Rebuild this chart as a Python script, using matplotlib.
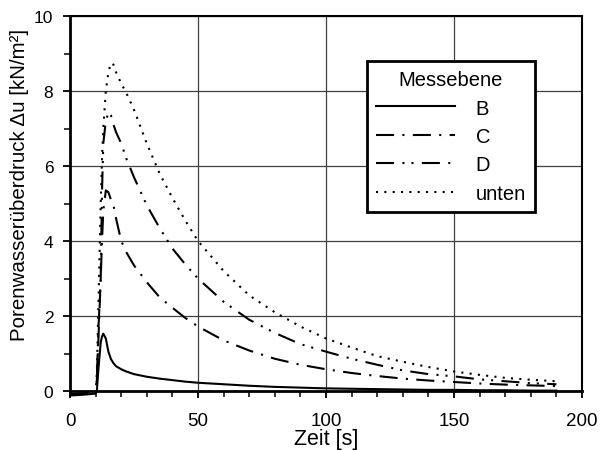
import numpy as np
import matplotlib
matplotlib.use("Agg")
import matplotlib.pyplot as plt

plt.rcParams['font.family'] = ['Liberation Sans', 'DejaVu Sans']
plt.rcParams['lines.scale_dashes'] = False

# Zeit [s]
zeit = [0, 5, 10, 10.5, 11, 12, 12.5, 13, 14, 15, 16, 17, 18, 20, 22, 25, 30, 35, 40, 45,
        50, 60, 70, 80, 90, 100, 110, 120, 130, 140, 150, 160, 170, 180, 190]

# Porenwasserueberdruck je Messebene [kN/m2]
du_B = [-0.12, -0.10, -0.07, 0.0, 0.5, 1.3, 1.45, 1.53, 1.40, 1.05, 0.85, 0.74, 0.66, 0.58,
        0.52, 0.45, 0.38, 0.33, 0.29, 0.25, 0.22, 0.18, 0.14, 0.11, 0.09, 0.07, 0.06, 0.05,
        0.04, 0.03, 0.03, 0.02, 0.02, 0.01, 0.01]
du_C = [-0.08, -0.07, -0.05, 0.3, 1.2, 3.0, 4.0, 4.8, 5.35, 5.30, 5.10, 4.95, 4.60, 4.00,
        3.70, 3.35, 2.90, 2.50, 2.22, 1.95, 1.72, 1.35, 1.08, 0.86, 0.70, 0.58, 0.48, 0.40,
        0.33, 0.28, 0.24, 0.20, 0.17, 0.15, 0.13]
du_D = [-0.08, -0.07, -0.05, 0.3, 1.5, 3.0, 5.3, 6.6, 7.20, 7.43, 7.35, 7.10, 6.90, 6.60,
        6.20, 5.70, 4.95, 4.35, 3.80, 3.38, 3.00, 2.38, 1.90, 1.55, 1.25, 1.05, 0.86, 0.70,
        0.55, 0.45, 0.39, 0.31, 0.26, 0.21, 0.18]
du_unten = [-0.08, -0.07, -0.05, 0.5, 2.0, 5.0, 6.2, 7.0, 8.0, 8.50, 8.75, 8.70, 8.50, 8.20,
            7.95, 7.50, 6.60, 5.80, 5.15, 4.55, 4.00, 3.20, 2.55, 2.10, 1.72, 1.40, 1.16, 0.93,
            0.78, 0.64, 0.52, 0.43, 0.35, 0.30, 0.26]

fs = 13.5

fig = plt.figure(figsize=(6, 4.52), dpi=100)
ax = fig.add_axes([70 / 600, 60 / 452, 512 / 600, 375 / 452])

lw = 1.5
ax.plot(zeit, du_B, color='black', lw=lw, linestyle='-', label='B', clip_on=False)
ax.plot(zeit, du_C, color='black', lw=lw, linestyle=(0, (13, 6, 1.5, 6)), label='C', clip_on=False)
ax.plot(zeit, du_D, color='black', lw=lw, linestyle=(0, (13, 6, 1.5, 5, 1.5, 6)), label='D',
        clip_on=False)
ax.plot(zeit, du_unten, color='black', lw=lw, linestyle=(0, (1.5, 4.5)), label='unten',
        clip_on=False)

ax.set_xlim(0, 200)
ax.set_ylim(0, 10)
ax.set_xticks([0, 50, 100, 150, 200])
ax.set_yticks([0, 2, 4, 6, 8, 10])
ax.set_xticks(np.arange(0, 201, 10), minor=True)
ax.set_yticks(np.arange(0, 11, 1), minor=True)
ax.grid(True, which='major', color='0.25', lw=0.9)
ax.tick_params(which='major', direction='out', length=5, width=1.3)
ax.tick_params(which='minor', direction='out', length=4, width=1.1)
ax.tick_params(axis='x', labelsize=fs, pad=10)
ax.tick_params(axis='y', labelsize=fs - 1, pad=7)
for side in ['left', 'bottom']:
    ax.spines[side].set_linewidth(2)
for side in ['top', 'right']:
    ax.spines[side].set_linewidth(1.5)

ax.set_xlabel('Zeit [s]', fontsize=15.5)
ax.set_ylabel('Porenwasserüberdruck Δu [kN/m²]', fontsize=14.8)
ax.xaxis.set_label_coords(0.5, -0.1)
ax.yaxis.set_label_coords(-0.08, 0.552)

leg = ax.legend(title='Messebene', loc='upper right', bbox_to_anchor=(0.908, 0.88),
                borderaxespad=0, fontsize=14.5, title_fontsize=14.5, handlelength=3.95,
                handletextpad=1.0, labelspacing=0.47, fancybox=False, framealpha=1,
                edgecolor='black', borderpad=0.45)
leg.get_frame().set_linewidth(2)

fig.savefig('out.png', dpi=100)
